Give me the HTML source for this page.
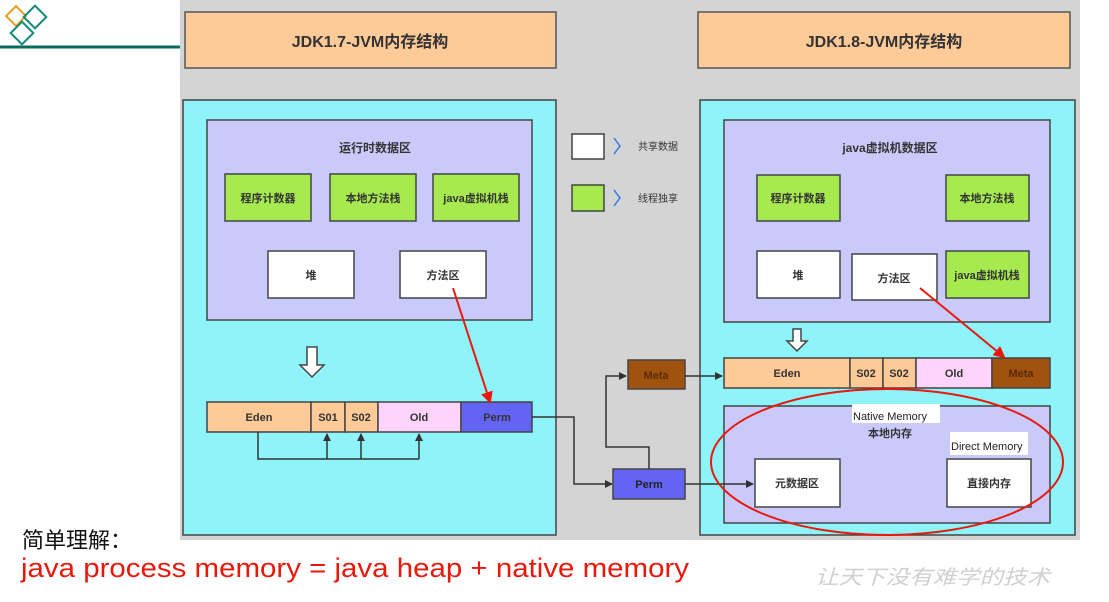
<!DOCTYPE html>
<html><head><meta charset="utf-8"><style>
body{margin:0;width:1109px;height:597px;background:#fff;overflow:hidden}
svg text{font-family:"Liberation Sans","Noto Sans CJK SC",sans-serif}
</style></head><body>
<svg width="1109" height="597" viewBox="0 0 1109 597" xmlns="http://www.w3.org/2000/svg">
<defs>
<marker id="a" markerWidth="8" markerHeight="8" refX="7" refY="4" orient="auto" markerUnits="userSpaceOnUse"><path d="M0,0 L8,4 L0,8 z" fill="#333"/></marker>
<marker id="r" markerWidth="12" markerHeight="12" refX="10" refY="6" orient="auto" markerUnits="userSpaceOnUse"><path d="M0,0 L12,6 L0,12 z" fill="#e8180c"/></marker>
</defs>
<rect x="180" y="0" width="900" height="540" fill="#d4d4d4"/>
<!-- logo -->
<line x1="0" y1="47" x2="180" y2="47" stroke="#0a6b5a" stroke-width="3"/>
<rect x="9" y="9" width="14" height="14" transform="rotate(45 16 16)" fill="none" stroke="#e8a020" stroke-width="2"/>
<rect x="27" y="9" width="16" height="16" transform="rotate(45 35 17)" fill="none" stroke="#138a7a" stroke-width="2"/>
<rect x="14" y="25" width="16" height="16" transform="rotate(45 22 33)" fill="none" stroke="#138a7a" stroke-width="2"/>
<!-- titles -->
<rect x="185" y="12" width="371" height="56" fill="#fdca98" stroke="#555" stroke-width="1.5"/>
<text x="370" y="47" font-size="16" font-weight="bold" text-anchor="middle" fill="#333">JDK1.7-JVM内存结构</text>
<rect x="698" y="12" width="372" height="56" fill="#fdca98" stroke="#555" stroke-width="1.5"/>
<text x="884" y="47" font-size="16" font-weight="bold" text-anchor="middle" fill="#333">JDK1.8-JVM内存结构</text>
<!-- left panel -->
<rect x="183" y="100" width="373" height="435" fill="#8ef4fa" stroke="#444" stroke-width="1.5"/>
<rect x="207" y="120" width="325" height="200" fill="#cacafa" stroke="#444" stroke-width="1.5"/>
<text x="375" y="152" font-size="12" text-anchor="middle" fill="#333" font-weight="bold">运行时数据区</text>
<g font-size="11" text-anchor="middle" fill="#333" font-weight="bold">
<rect x="225" y="174" width="86" height="47" fill="#a6ea50" stroke="#444" stroke-width="1.5"/><text x="268" y="202">程序计数器</text>
<rect x="330" y="174" width="86" height="47" fill="#a6ea50" stroke="#444" stroke-width="1.5"/><text x="373" y="202">本地方法栈</text>
<rect x="433" y="174" width="86" height="47" fill="#a6ea50" stroke="#444" stroke-width="1.5"/><text x="476" y="202">java虚拟机栈</text>
<rect x="268" y="251" width="86" height="47" fill="#fff" stroke="#444" stroke-width="1.5"/><text x="311" y="279">堆</text>
<rect x="400" y="251" width="86" height="47" fill="#fff" stroke="#444" stroke-width="1.5"/><text x="443" y="279">方法区</text>
</g>
<path d="M307,347 h10 v18 h7 l-12,12 l-12,-12 h7 z" fill="#fff" stroke="#444" stroke-width="1.5"/>
<g stroke="#444" stroke-width="1.5">
<rect x="207" y="402" width="104" height="30" fill="#fdca98"/>
<rect x="311" y="402" width="34" height="30" fill="#fdca98"/>
<rect x="345" y="402" width="33" height="30" fill="#fdca98"/>
<rect x="378" y="402" width="83" height="30" fill="#ffd4fc"/>
<rect x="461" y="402" width="71" height="30" fill="#6464f2"/>
</g>
<g font-size="11" text-anchor="middle" fill="#333" font-weight="bold">
<text x="259" y="421">Eden</text><text x="328" y="421">S01</text><text x="361" y="421">S02</text><text x="419" y="421">Old</text><text x="497" y="421">Perm</text>
</g>
<path d="M258,432 V459 H419" fill="none" stroke="#333" stroke-width="1.5"/>
<line x1="327" y1="459" x2="327" y2="434" stroke="#333" stroke-width="1.5" marker-end="url(#a)"/>
<line x1="361" y1="459" x2="361" y2="434" stroke="#333" stroke-width="1.5" marker-end="url(#a)"/>
<line x1="419" y1="459" x2="419" y2="434" stroke="#333" stroke-width="1.5" marker-end="url(#a)"/>
<line x1="453" y1="288" x2="490" y2="402" stroke="#e8180c" stroke-width="2" marker-end="url(#r)"/>
<!-- legend -->
<rect x="572" y="134" width="32" height="25" fill="#fff" stroke="#444" stroke-width="1.5"/>
<path d="M614,138 l6,8 l-6,8" fill="none" stroke="#3a7fe0" stroke-width="1.5"/>
<text x="638" y="150" font-size="10" fill="#333">共享数据</text>
<rect x="572" y="185" width="32" height="26" fill="#a6ea50" stroke="#444" stroke-width="1.5"/>
<path d="M614,190 l6,8 l-6,8" fill="none" stroke="#3a7fe0" stroke-width="1.5"/>
<text x="638" y="202" font-size="10" fill="#333">线程独享</text>
<!-- right panel -->
<rect x="700" y="100" width="375" height="435" fill="#8ef4fa" stroke="#444" stroke-width="1.5"/>
<rect x="724" y="120" width="326" height="202" fill="#cacafa" stroke="#444" stroke-width="1.5"/>
<text x="890" y="152" font-size="12" text-anchor="middle" fill="#333" font-weight="bold">java虚拟机数据区</text>
<g font-size="11" text-anchor="middle" fill="#333" font-weight="bold">
<rect x="757" y="175" width="83" height="46" fill="#a6ea50" stroke="#444" stroke-width="1.5"/><text x="798" y="202">程序计数器</text>
<rect x="946" y="175" width="83" height="46" fill="#a6ea50" stroke="#444" stroke-width="1.5"/><text x="987" y="202">本地方法栈</text>
<rect x="946" y="251" width="83" height="47" fill="#a6ea50" stroke="#444" stroke-width="1.5"/><text x="987" y="279">java虚拟机栈</text>
<rect x="757" y="251" width="83" height="47" fill="#fff" stroke="#444" stroke-width="1.5"/><text x="798" y="279">堆</text>
<rect x="852" y="254" width="85" height="46" fill="#fff" stroke="#444" stroke-width="1.5"/><text x="894" y="282">方法区</text>
</g>
<path d="M793,329 h8 v12 h6 l-10,10 l-10,-10 h6 z" fill="#fff" stroke="#444" stroke-width="1.5"/>
<g stroke="#444" stroke-width="1.5">
<rect x="724" y="358" width="126" height="30" fill="#fdca98"/>
<rect x="850" y="358" width="33" height="30" fill="#fdca98"/>
<rect x="883" y="358" width="33" height="30" fill="#fdca98"/>
<rect x="916" y="358" width="76" height="30" fill="#ffd4fc"/>
<rect x="992" y="358" width="58" height="30" fill="#a0520f"/>
</g>
<g font-size="11" text-anchor="middle" fill="#333" font-weight="bold">
<text x="787" y="377">Eden</text><text x="866" y="377">S02</text><text x="899" y="377">S02</text><text x="954" y="377">Old</text><text x="1021" y="377" fill="#5a2a05">Meta</text>
</g>
<line x1="920" y1="288" x2="1004" y2="357" stroke="#e8180c" stroke-width="2" marker-end="url(#r)"/>
<rect x="724" y="406" width="326" height="117" fill="#cacafa" stroke="#444" stroke-width="1.5"/>
<rect x="852" y="404" width="88" height="19" fill="#fff"/>
<text x="853" y="420" font-size="11" fill="#222">Native Memory</text>
<text x="890" y="437" font-size="11" text-anchor="middle" fill="#333" font-weight="bold">本地内存</text>
<rect x="950" y="432" width="78" height="23" fill="#fff"/>
<text x="951" y="450" font-size="11" fill="#222">Direct Memory</text>
<rect x="755" y="459" width="85" height="48" fill="#fff" stroke="#444" stroke-width="1.5"/>
<text x="797" y="487" font-size="11" text-anchor="middle" fill="#333" font-weight="bold">元数据区</text>
<rect x="947" y="459" width="84" height="48" fill="#fff" stroke="#444" stroke-width="1.5"/>
<text x="989" y="487" font-size="11" text-anchor="middle" fill="#333" font-weight="bold">直接内存</text>
<!-- middle connectors -->
<path d="M532,417 H574 V484 H612" fill="none" stroke="#333" stroke-width="1.5" marker-end="url(#a)"/>
<path d="M649,469 V447 H606 V376 H626" fill="none" stroke="#333" stroke-width="1.5" marker-end="url(#a)"/>
<rect x="628" y="360" width="57" height="29" fill="#a0520f" stroke="#444" stroke-width="1.5"/>
<text x="656" y="379" font-size="11" text-anchor="middle" fill="#5a2a05" font-weight="bold">Meta</text>
<rect x="613" y="469" width="72" height="30" fill="#6464f2" stroke="#444" stroke-width="1.5"/>
<text x="649" y="488" font-size="11" text-anchor="middle" fill="#222" font-weight="bold">Perm</text>
<line x1="685" y1="376" x2="722" y2="376" stroke="#333" stroke-width="1.5" marker-end="url(#a)"/>
<line x1="685" y1="484" x2="753" y2="484" stroke="#333" stroke-width="1.5" marker-end="url(#a)"/>
<ellipse cx="887" cy="462" rx="176" ry="73" fill="none" stroke="#e8180c" stroke-width="2"/>
<!-- bottom text -->
<text x="22" y="548" font-size="22" fill="#111">简单理解：</text>
<text x="21" y="577" font-size="27" fill="#e8180c" textLength="668" lengthAdjust="spacingAndGlyphs">java process memory = java heap + native memory</text>
<text x="815" y="584" font-size="20" fill="#d0d0d0" font-style="italic" textLength="235" lengthAdjust="spacingAndGlyphs">让天下没有难学的技术</text>
</svg>
</body></html>
